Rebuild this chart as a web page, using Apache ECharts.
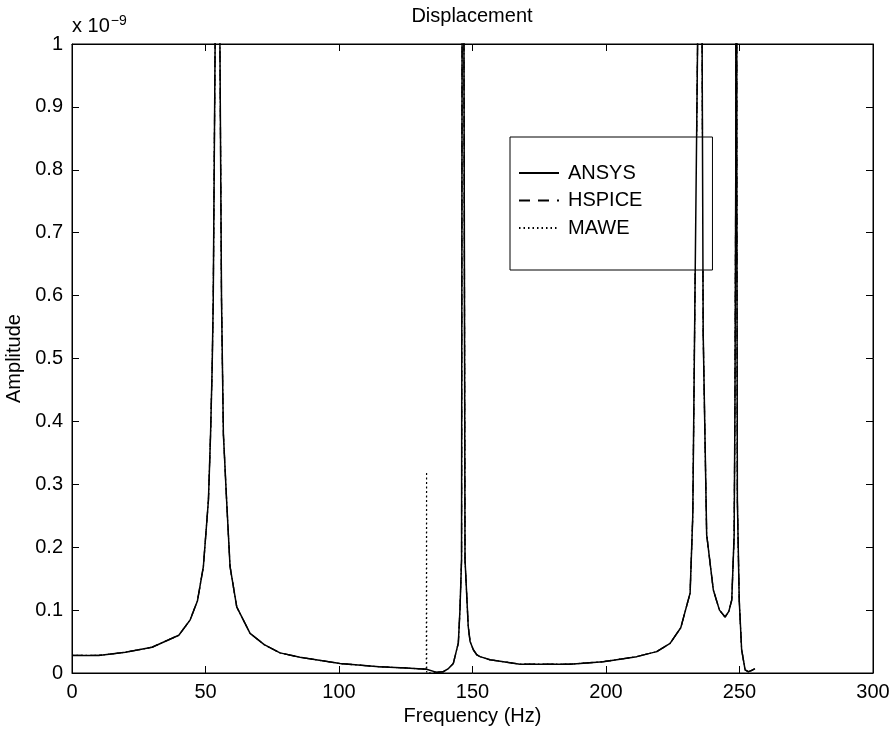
<!DOCTYPE html>
<html>
<head>
<meta charset="utf-8">
<script src="https://cdn.jsdelivr.net/npm/echarts@6/dist/echarts.min.js"></script>
<style>html,body{margin:0;padding:0;background:#fff;}#c{width:894px;height:729px;}</style>
</head>
<body>
<div id="c"></div>
<script>
// Frequency (Hz) and amplitude (units of 1e-9)
const ansysFreq = [0,10,20,30,40,44.2,47,49.2,51.1,51.9,52.5,52.9,53.6,54.0,54.5,55.0,55.4,56.0,56.7,57.9,59.2,61.7,66.7,72,77.9,85.4,100.4,115,125,132.8,136.6,139,141,142.8,144.7,145.3,145.9,146.1,146.4,146.8,147.2,148.4,149.1,150.3,151.6,152.8,156.6,167.8,186.5,199,211.5,219,224,228,231.5,232.5,233.3,234.3,235.2,236.0,236.4,237.7,240.2,242.5,244.6,246,247.1,248,248.3,248.6,248.8,249.0,249.2,249.9,250.8,252.1,253.3,254.5,255.8];
const ansysAmp  = [0.028,0.028,0.033,0.041,0.060,0.084,0.115,0.169,0.275,0.38,0.487,0.593,1.0,1.8,3.0,1.8,1.0,0.593,0.38,0.275,0.169,0.105,0.063,0.045,0.032,0.025,0.015,0.010,0.008,0.006,0.001,0.002,0.007,0.015,0.048,0.1,0.18,1.0,3.0,1.0,0.18,0.074,0.05,0.037,0.029,0.026,0.021,0.014,0.014,0.018,0.026,0.034,0.047,0.072,0.127,0.25,0.593,1.0,3.0,1.0,0.54,0.22,0.132,0.1,0.089,0.098,0.116,0.22,0.43,0.8,3.0,0.8,0.275,0.116,0.037,0.005,0.002,0.004,0.007];
// HSPICE coincides with ANSYS in the picture
const hspiceFreq = ansysFreq.slice();
const hspiceAmp = ansysAmp.slice();
// MAWE coincides too, except a spike at 132.8 Hz
const maweFreq = [0,10,20,30,40,44.2,47,49.2,51.1,51.9,52.5,52.9,53.6,54.0,54.5,55.0,55.4,56.0,56.7,57.9,59.2,61.7,66.7,72,77.9,85.4,100.4,115,125,132.7,132.8,132.85,136.6,139,141,142.8,144.7,145.3,145.9,146.1,146.4,146.8,147.2,148.4,149.1,150.3,151.6,152.8,156.6,167.8,186.5,199,211.5,219,224,228,231.5,232.5,233.3,234.3,235.2,236.0,236.4,237.7,240.2,242.5,244.6,246,247.1,248,248.3,248.6,248.8,249.0,249.2,249.9,250.8,252.1,253.3,254.5,255.8];
const maweAmp  = [0.028,0.028,0.033,0.041,0.060,0.084,0.115,0.169,0.275,0.38,0.487,0.593,1.0,1.8,3.0,1.8,1.0,0.593,0.38,0.275,0.169,0.105,0.063,0.045,0.032,0.025,0.015,0.010,0.008,0.006,0.32,0.0,0.001,0.002,0.007,0.015,0.048,0.1,0.18,1.0,3.0,1.0,0.18,0.074,0.05,0.037,0.029,0.026,0.021,0.014,0.014,0.018,0.026,0.034,0.047,0.072,0.127,0.25,0.593,1.0,3.0,1.0,0.54,0.22,0.132,0.1,0.089,0.098,0.116,0.22,0.43,0.8,3.0,0.8,0.275,0.116,0.037,0.005,0.002,0.004,0.007];
const xTicks = [0,50,100,150,200,250,300];
const yTicks = [0,0.1,0.2,0.3,0.4,0.5,0.6,0.7,0.8,0.9,1];

const zip = (a, b) => a.map((v, i) => [v, b[i]]);
const FONT = 'Liberation Sans';
const FS = 20;
const chart = echarts.init(document.getElementById('c'), null, {renderer: 'canvas'});
const axisCommon = () => ({
  axisLine: {show: true, onZero: false, lineStyle: {color: '#000', width: 1}},
  axisTick: {show: true, inside: true, length: 7, lineStyle: {color: '#000', width: 1}},
  splitLine: {show: false}
});
chart.setOption({
  animation: false,
  backgroundColor: '#fff',
  grid: {left: 72, right: 21, top: 44, bottom: 56, containLabel: false, outerBoundsMode: 'none',
    show: true, borderColor: '#000', borderWidth: 1, backgroundColor: 'transparent'},
  xAxis: [
    Object.assign({type: 'value', min: xTicks[0], max: xTicks[xTicks.length-1], interval: 50,
      name: 'Frequency (Hz)', nameLocation: 'middle', nameGap: 31,
      nameTextStyle: {fontFamily: FONT, fontSize: FS, color: '#000'},
      axisLabel: {fontFamily: FONT, fontSize: FS, color: '#000', margin: 9}}, axisCommon()),
    Object.assign({type: 'value', position: 'top', min: 0, max: 300, interval: 50,
      axisLabel: {show: false}}, axisCommon())
  ],
  yAxis: [
    Object.assign({type: 'value', min: yTicks[0], max: yTicks[yTicks.length-1], interval: 0.1,
      name: 'Amplitude', nameLocation: 'middle', nameGap: 40,
      nameTextStyle: {fontFamily: FONT, fontSize: FS, color: '#000'},
      axisLabel: {fontFamily: FONT, fontSize: FS, color: '#000', margin: 9,
        formatter: v => String(Number(v.toFixed(1)))}}, axisCommon()),
    Object.assign({type: 'value', position: 'right', min: 0, max: 1, interval: 0.1,
      axisLabel: {show: false}}, axisCommon())
  ],
  legend: {
    orient: 'vertical', left: 510, top: 137,
    padding: [26, 70, 32, 8], itemGap: 7.5, itemWidth: 40, itemHeight: 14,
    backgroundColor: '#fff', borderColor: '#000', borderWidth: 1,
    itemStyle: {opacity: 0},
    textStyle: {fontFamily: FONT, fontSize: FS, color: '#000', padding: [0,0,0,4]},
    data: ['ANSYS', 'HSPICE', 'MAWE']
  },
  graphic: [
    {type: 'text', x: 472, y: 16, style: {text: 'Displacement', fontFamily: FONT, fontSize: FS, fill: '#000', align: 'center', verticalAlign: 'middle'}},
    {type: 'text', x: 72, y: 14, style: {text: '{a|x 10}{b|−9}', fill: '#000',
      rich: {a: {fontFamily: FONT, fontSize: FS, color: '#000', verticalAlign: 'bottom', lineHeight: 22, padding: [6,0,0,0]},
             b: {fontFamily: FONT, fontSize: 14, color: '#000', verticalAlign: 'top', lineHeight: 14, padding: [0,0,0,1]}}}}
  ],
  series: [
    {name: 'MAWE', type: 'line', symbol: 'none', clip: true, data: zip(maweFreq, maweAmp),
      lineStyle: {color: '#000', width: 1.2, type: [1.5, 3]}, itemStyle: {color: '#000'}, z: 2},
    {name: 'HSPICE', type: 'line', symbol: 'none', clip: true, data: zip(hspiceFreq, hspiceAmp),
      lineStyle: {color: '#000', width: 1.3, type: [11, 8]}, itemStyle: {color: '#000'}, z: 3},
    {name: 'ANSYS', type: 'line', symbol: 'none', clip: true, data: zip(ansysFreq, ansysAmp),
      lineStyle: {color: '#000', width: 1.5, type: 'solid'}, itemStyle: {color: '#000'}, z: 4}
  ]
});
</script>
</body>
</html>
